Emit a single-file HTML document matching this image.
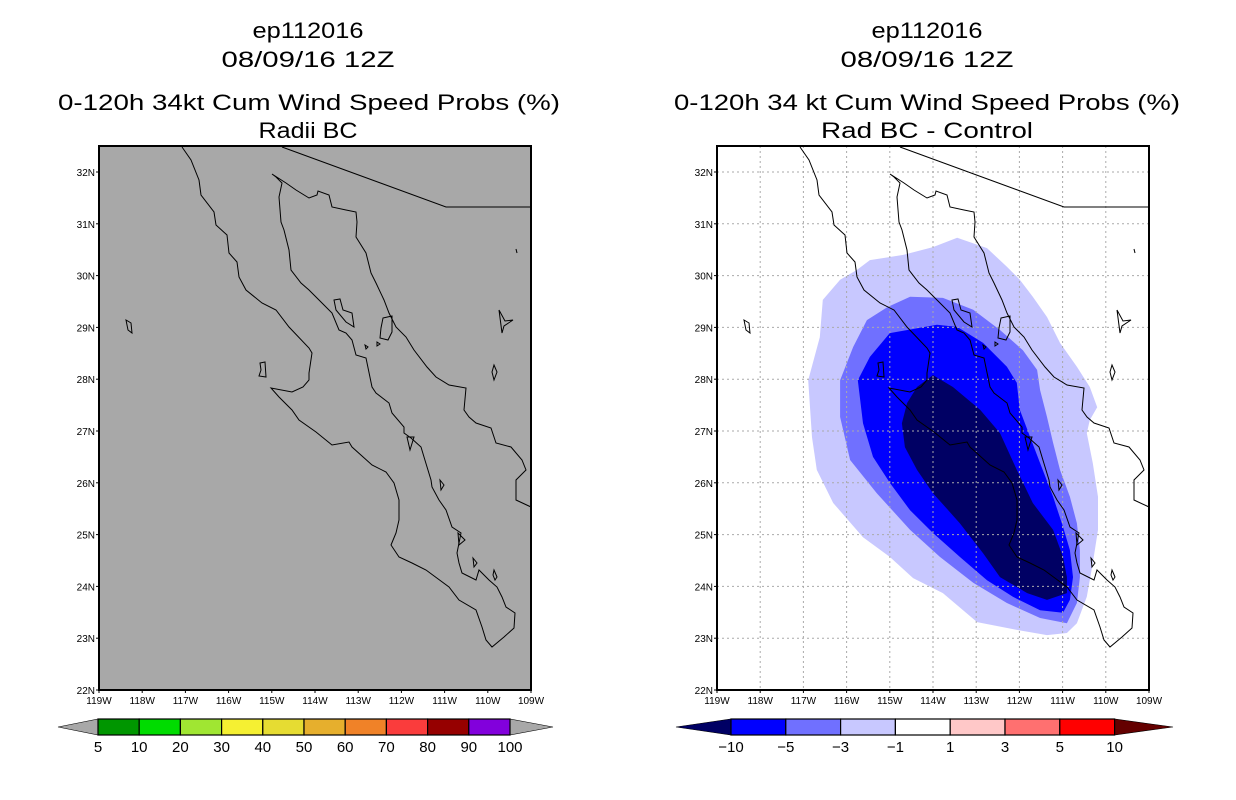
<!DOCTYPE html>
<html><head><meta charset="utf-8"><style>
html,body{margin:0;padding:0;background:#fff;}
svg{display:block;font-family:"Liberation Sans",sans-serif;}
</style></head><body>
<svg id="chart" width="1236" height="800" viewBox="0 0 1236 800">
<defs>
<g id="coast" fill="none" stroke="#000" stroke-width="1">
<polyline points="182,147 191,160 199,180 201,195 214,212 216,225 227,235 229,253 237,262 239,277 246,290 262,303 276,310 289,327 309,348 312,353 309,373 309,380 303,387 292,392 271,388 279,397 292,410 299,420 316,432 332,445 349,442 352,447 372,465 386,472 394,483 399,500 399,520 396,533 391,545 399,557 412,563 426,570 449,587 459,600 476,610 482,627 486,640 492,647 504,637 514,628 515,613 506,607 502,597 497,587 489,580 479,570 476,580 462,573 459,563 457,553 461,533 452,527 446,510 439,500 432,487 431,480 424,457 421,447 411,438 404,433 404,427 392,413 389,403 376,393 372,387 366,358 356,355 352,340 346,333 339,330 332,313 319,300 309,290 301,283 291,270 289,250 284,230 281,222 279,197 282,183 276,177 272,174 286,183 296,190 309,198 317,195 318,191 329,195 332,207 346,210 356,212 357,222 356,237 366,253 371,273 376,283 384,300 389,313 396,327 406,337 414,350 427,367 436,377 449,385 466,388 464,410 469,417 476,423 491,428 496,443 511,447 522,460 526,470 516,480 516,500 531,507"/>
<polyline points="282,147 446,207 531,207"/>
<polygon points="383,318 392,316 392,332 388,340 380,338 381,328"/>
<polygon points="334,300 340,299 343,310 352,313 354,327 346,322 336,310"/>
<polygon points="126,320 131,323 132,333 128,330"/>
<polygon points="260,363 265,362 266,377 259,376 261,370"/>
<polygon points="499,310 505,321 513,320 504,326 502,333"/>
<polygon points="494,365 497,372 494,380 492,372"/>
<polygon points="407,437 414,437 410,450"/>
<polygon points="440,480 444,485 441,490"/>
<polygon points="458,533 465,540 459,545"/>
<polygon points="473,558 477,563 474,567"/>
<polygon points="494,570 497,577 495,580 493,575"/>
<polygon points="365,345 368,347 366,349"/>
<polygon points="377,342 380,344 377,346"/>
<polyline points="516,249 517,253"/>
</g>
</defs>

<!-- Titles -->
<g font-size="22" fill="#000" text-anchor="middle">
<text x="308" y="38" textLength="111" lengthAdjust="spacingAndGlyphs">ep112016</text>
<text x="308" y="67" textLength="173" lengthAdjust="spacingAndGlyphs">08/09/16 12Z</text>
<text x="309" y="110" textLength="502" lengthAdjust="spacingAndGlyphs">0-120h 34kt Cum Wind Speed Probs (%)</text>
<text x="308" y="138" textLength="99" lengthAdjust="spacingAndGlyphs">Radii BC</text>
</g>
<g font-size="22" fill="#000" text-anchor="middle">
<text x="927" y="38" textLength="111" lengthAdjust="spacingAndGlyphs">ep112016</text>
<text x="927" y="67" textLength="173" lengthAdjust="spacingAndGlyphs">08/09/16 12Z</text>
<text x="927" y="110" textLength="506" lengthAdjust="spacingAndGlyphs">0-120h 34 kt Cum Wind Speed Probs (%)</text>
<text x="927" y="138" textLength="212" lengthAdjust="spacingAndGlyphs">Rad BC - Control</text>
</g>

<g id="leftMap"></g>
<g id="rightMap"></g>
<g id="leftBar"></g>
<g id="rightBar"></g>
</svg>
<script>
// ---- data ----
const latTicks = [22,23,24,25,26,27,28,29,30,31,32];
const lonTicks = [-119,-118,-117,-116,-115,-114,-113,-112,-111,-110,-109];
const leftBarLabels = ["5","10","20","30","40","50","60","70","80","90","100"];
const leftBarColors = ["#009600","#00dc00","#a0e632","#f5f032","#e6dc32","#e6af2d","#f08228","#fa3c3c","#960000","#8200dc"];
const rightBarLabels = ["-10","-5","-3","-1","1","3","5","10"];
const rightBarColors = ["#0000ff","#7070ff","#c8c8ff","#ffffff","#ffc8c8","#ff7070","#ff0000"];
const contourLevels = ["-1","-3","-5","-10"];
const contourColors = ["#c8c8ff","#7070ff","#0000ff","#000064"];
const contourLight = [[-113.44,30.73],[-112.75,30.53],[-112.29,30.17],[-111.99,29.92],[-111.69,29.59],[-111.36,29.20],[-111.06,28.70],[-110.67,28.24],[-110.37,27.85],[-110.20,27.46],[-110.37,27.21],[-110.44,26.96],[-110.30,26.38],[-110.18,25.73],[-110.18,25.09],[-110.30,24.45],[-110.44,23.80],[-110.67,23.29],[-110.90,23.10],[-111.36,23.06],[-112.06,23.16],[-112.98,23.31],[-113.77,23.87],[-114.46,24.16],[-115.00,24.57],[-115.62,24.95],[-116.31,25.61],[-116.69,26.25],[-116.80,26.88],[-116.89,27.98],[-116.62,28.81],[-116.55,29.53],[-116.15,29.92],[-115.76,30.11],[-115.46,30.30],[-114.69,30.40],[-114.00,30.55]];
const contourMedium = [[-114.53,29.59],[-113.77,29.57],[-113.07,29.34],[-112.45,28.95],[-111.92,28.56],[-111.59,28.18],[-111.52,27.79],[-111.36,27.27],[-111.22,26.77],[-111.06,26.25],[-110.83,25.73],[-110.67,25.22],[-110.60,24.70],[-110.60,24.18],[-110.67,23.68],[-110.90,23.29],[-111.52,23.39],[-112.29,23.68],[-113.07,24.07],[-113.84,24.57],[-114.53,25.09],[-115.30,25.80],[-115.92,26.44],[-116.15,27.27],[-116.15,27.98],[-115.85,28.62],[-115.53,29.14],[-115.06,29.39]];
const contourBlue = [[-115.00,28.89],[-113.91,29.05],[-113.44,29.01],[-112.84,28.70],[-112.29,28.24],[-112.06,27.93],[-111.99,27.41],[-111.75,26.88],[-111.52,26.38],[-111.22,25.73],[-110.99,25.15],[-110.83,24.70],[-110.76,24.18],[-110.83,23.74],[-110.99,23.49],[-111.52,23.54],[-112.15,23.80],[-112.75,24.12],[-113.38,24.57],[-114.00,25.03],[-114.53,25.47],[-115.00,26.00],[-115.39,26.50],[-115.62,27.15],[-115.74,27.98],[-115.46,28.43]];
const contourDark = [[-114.00,28.08],[-113.54,27.85],[-112.91,27.41],[-112.45,26.96],[-112.06,26.25],[-111.69,25.61],[-111.22,25.09],[-110.99,24.57],[-110.90,24.18],[-110.90,23.87],[-111.36,23.74],[-111.82,23.87],[-112.45,24.18],[-112.84,24.64],[-113.38,25.22],[-114.00,25.80],[-114.37,26.25],[-114.65,26.69],[-114.72,27.15],[-114.60,27.54],[-114.37,27.85]];

// ---- layout ----
const NS = "http://www.w3.org/2000/svg";
const MAP_TOP = 146, MAP_BOTTOM = 690, MAP_W = 432;
function yOf(lat){ return 690 - (lat - 22) * 51.8; }
function xOf(left, lon){ return left + (lon + 119) * 43.2; }
function mk(tag, attrs, parent){
  const e = document.createElementNS(NS, tag);
  for (const k in attrs) e.setAttribute(k, attrs[k]);
  parent.appendChild(e);
  return e;
}

function drawMap(g, left, bg, grid, contours, prefix){
  const bgRect = mk("rect", {x:left, y:MAP_TOP, width:MAP_W, height:MAP_BOTTOM-MAP_TOP, fill:bg}, g);
  
  
  contours.forEach((poly, i) => {
    const pts = poly.map(p => xOf(left, p[0]).toFixed(1) + "," + yOf(p[1]).toFixed(1)).join(" ");
    const pg = mk("polygon", {points:pts, fill:contourColors[i]}, g);
    
    
  });
  if (grid){
    latTicks.forEach(lat => {
      const l = mk("line", {x1:left, x2:left+MAP_W, y1:yOf(lat), y2:yOf(lat), stroke:"#aaa", "stroke-width":1, "stroke-dasharray":"2,3"}, g);
      
      
    });
    lonTicks.forEach(lon => {
      const l = mk("line", {x1:xOf(left,lon), x2:xOf(left,lon), y1:MAP_TOP, y2:MAP_BOTTOM, stroke:"#aaa", "stroke-width":1, "stroke-dasharray":"2,3"}, g);
      
      
    });
  }
  const c = mk("use", {href:"#coast", transform:"translate(" + (left-99) + ",0)"}, g);
  
  
  const fr = mk("rect", {x:left, y:MAP_TOP, width:MAP_W, height:MAP_BOTTOM-MAP_TOP, fill:"none", stroke:"#000", "stroke-width":2}, g);
  
  
  latTicks.forEach(lat => {
    const t = mk("text", {x:left-4, y:yOf(lat)+4, "font-size":10, "text-anchor":"end"}, g);
    t.textContent = lat + "N";
    
    
    mk("line", {x1:left-3, x2:left, y1:yOf(lat), y2:yOf(lat), stroke:"#000"}, g);
  });
  lonTicks.forEach(lon => {
    const t = mk("text", {x:xOf(left,lon), y:704, "font-size":10, "text-anchor":"middle"}, g);
    t.textContent = (-lon) + "W";
    
    
    mk("line", {x1:xOf(left,lon), x2:xOf(left,lon), y1:MAP_BOTTOM, y2:MAP_BOTTOM+3, stroke:"#000"}, g);
  });
}

function drawBar(g, x0, boxW, colors, labels, triL, triR, leftColor, rightColor, prefix){
  const y0 = 719, y1 = 735, ym = 727;
  const n = colors.length, x1 = x0 + n*boxW;
  const tl = mk("polygon", {points: triL+","+ym+" "+x0+","+y0+" "+x0+","+y1, fill:leftColor, stroke:"#000", "stroke-width":0.6}, g);
  
  
  const tr = mk("polygon", {points: triR+","+ym+" "+x1+","+y0+" "+x1+","+y1, fill:rightColor, stroke:"#000", "stroke-width":0.6}, g);
  
  
  colors.forEach((col, i) => {
    const r = mk("rect", {x:x0+i*boxW, y:y0, width:boxW, height:y1-y0, fill:col, stroke:"#000", "stroke-width":1.2}, g);
    
    
  });
  labels.forEach((lab, i) => {
    const t = mk("text", {x:x0+i*boxW, y:752, "font-size":15, "text-anchor":"middle"}, g);
    t.textContent = lab.replace("-", "\u2212");
    
    
  });
}

drawMap(document.getElementById("leftMap"), 99, "#a8a8a8", false, [], "left");
drawMap(document.getElementById("rightMap"), 717, "#ffffff", true, [contourLight, contourMedium, contourBlue, contourDark], "right");
drawBar(document.getElementById("leftBar"), 98, 41.2, leftBarColors, leftBarLabels, 58, 553, "#a8a8a8", "#a8a8a8", "left-colorbar");
drawBar(document.getElementById("rightBar"), 731, 54.8, rightBarColors, rightBarLabels, 676, 1173, "#000064", "#640000", "right-colorbar");
</script>
</body></html>
